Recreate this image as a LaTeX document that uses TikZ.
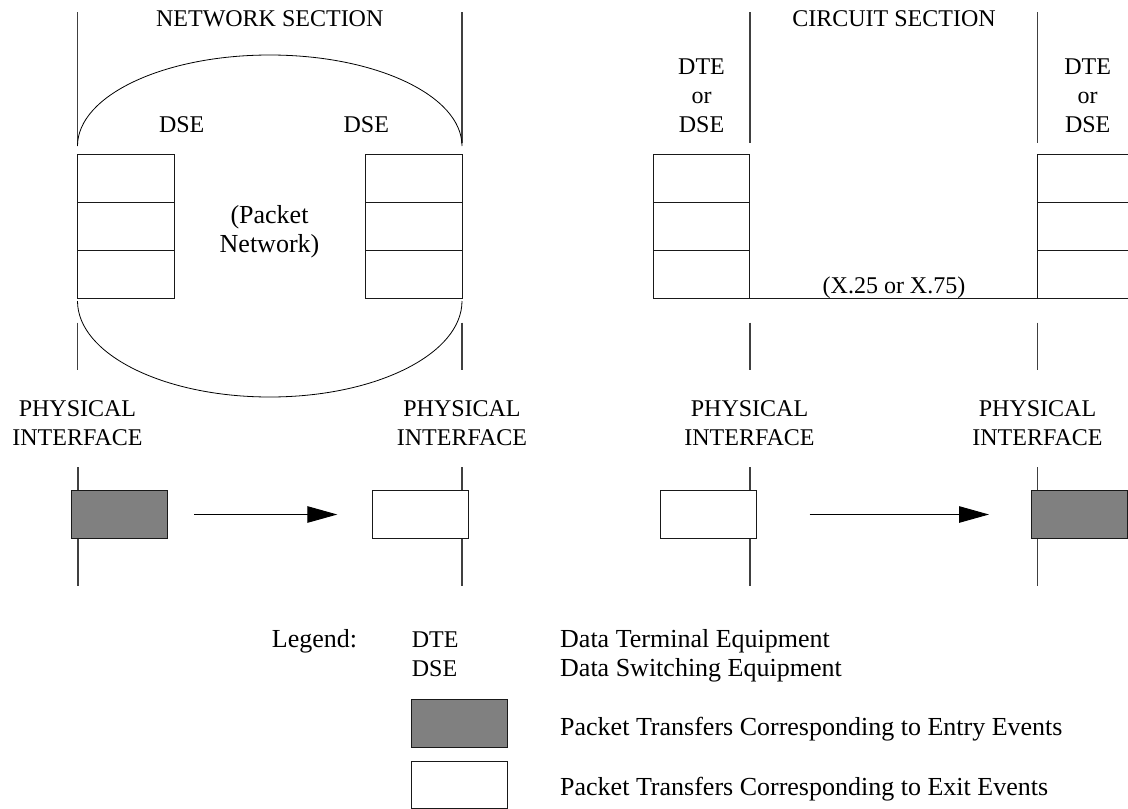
\documentclass[tikz,border=0pt]{standalone}
\usepackage{fontspec}
\setmainfont{Liberation Serif}
\usetikzlibrary{arrows.meta}
\definecolor{vline}{HTML}{404040}
\definecolor{boxgrey}{HTML}{808080}
\tikzset{
  caps/.style={font=\fontsize{24}{29}\selectfont, inner sep=0pt, anchor=base, align=center},
  mixed/.style={font=\fontsize{26}{29}\selectfont, inner sep=0pt, anchor=base, align=center},
  phys/.style={font=\fontsize{24}{28.5}\selectfont, inner sep=0pt, anchor=base, align=center},
  sideline/.style={draw=vline, line width=1.3pt},
  cell/.style={draw=black!90, line width=1pt, fill=white, minimum width=96.6pt, minimum height=48pt, inner sep=0pt, outer sep=0pt},
  pkt/.style={draw=black!90, line width=1pt, minimum width=96pt, minimum height=48.7pt, inner sep=0pt, outer sep=0pt},
  entry/.style={pkt, fill=boxgrey},
  exitbox/.style={pkt, fill=white},
  flow/.style={draw=black, line width=1pt, -{Triangle[length=30pt,width=16.5pt]}},
  cloud/.style={draw=black, line width=0.8pt},
}
\begin{document}
\begin{tikzpicture}[x=1pt,y=-1pt]
\clip (0,0) rectangle (1128,809);
\fill[white] (0,0) rectangle (1128,809);

% ---------- vertical section lines (upper) ----------
\foreach \x in {77.5,462,750,1037.7} {
  \draw[sideline] (\x,12) -- (\x,143);
  \draw[sideline] (\x,322.7) -- (\x,370);
}

% ---------- packet network cloud ----------
\draw[cloud] (77.5,146) arc[start angle=180, end angle=0, x radius=192.25pt, y radius=91pt];
\draw[cloud] (77.5,301) arc[start angle=180, end angle=360, x radius=192.25pt, y radius=96pt];

% ---------- stacks ----------
\node[cell] (nl1) at (125.9,178.5) {};
\node[cell] (nl2) at (125.9,226.5) {};
\node[cell] (nl3) at (125.9,274.5) {};
\node[cell] (nr1) at (413.7,178.5) {};
\node[cell] (nr2) at (413.7,226.5) {};
\node[cell] (nr3) at (413.7,274.5) {};
\node[cell] (cl1) at (701.5,178.5) {};
\node[cell] (cl2) at (701.5,226.5) {};
\node[cell] (cl3) at (701.5,274.5) {};
\node[cell] (cr1) at (1086,178.5) {};
\node[cell] (cr2) at (1086,226.5) {};
\node[cell] (cr3) at (1086,274.5) {};
\draw[line width=1pt, draw=black!90] (cl3.south east) -- (cr3.south west);

% ---------- top labels ----------
\node[caps] (netsec) at (269.75,26.7) {NETWORK SECTION};
\node[caps] (cirsec) at (894,26.7) {CIRCUIT SECTION};
\node[caps] (dse1) at (181.7,132.7) {DSE};
\node[caps] (dse2) at (366.3,132.7) {DSE};
\node[mixed] (pnet) at (269.5,252.2) {(Packet\\Network)};
\node[caps] (dte1) at (701.5,132.7) {DTE\\or\\DSE};
\node[caps] (dte2) at (1087.7,132.7) {DTE\\or\\DSE};
\node[caps] (x25) at (894,293.3) {(X.25 or X.75)};

% ---------- physical interface labels ----------
\node[phys] (pi1) at (77.5,445) {PHYSICAL\\INTERFACE};
\node[phys] (pi2) at (462,445) {PHYSICAL\\INTERFACE};
\node[phys] (pi3) at (749.5,445) {PHYSICAL\\INTERFACE};
\node[phys] (pi4) at (1037.5,445) {PHYSICAL\\INTERFACE};

% ---------- lower interface lines ----------
\foreach \x in {78,462,750,1037.5} {
  \draw[sideline] (\x,467.3) -- (\x,586);
}

% ---------- packet transfers ----------
\node[entry]   (g1) at (119.2,514.5) {};
\node[exitbox] (w1) at (420.3,514.5) {};
\node[exitbox] (w2) at (708.7,514.5) {};
\node[entry]   (g2) at (1079,514.5) {};
\draw[flow] ([xshift=27pt]g1.east) -- ([xshift=-35pt]w1.west);
\draw[flow] ([xshift=53pt]w2.east) -- ([xshift=-42pt]g2.west);

% ---------- legend ----------
\node[mixed, anchor=base west] (leg) at (271.7,647.7) {Legend:};
\node[caps, anchor=base west, align=left] (abbr) at (411.7,676.7) {DTE\\DSE};
\node[mixed, anchor=base west, align=left] (abbrtxt) at (560,676.7) {Data Terminal Equipment\\Data Switching Equipment};
\node[entry, minimum width=96.7pt, minimum height=48.4pt] (lg) at (459.35,723.5) {};
\node[exitbox, minimum width=96.7pt, minimum height=47.5pt] (lw) at (459.35,784.75) {};
\node[mixed, anchor=base west] (lgtxt) at (560,735) {Packet Transfers Corresponding to Entry Events};
\node[mixed, anchor=base west] (lwtxt) at (560,795) {Packet Transfers Corresponding to Exit Events};
\end{tikzpicture}
\end{document}
